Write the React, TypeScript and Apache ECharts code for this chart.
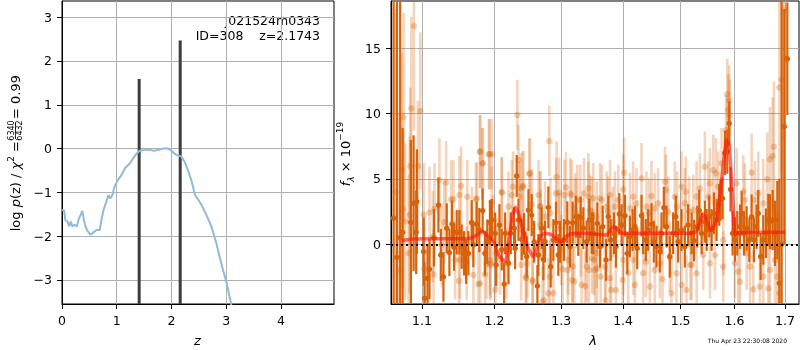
import React, { useEffect, useRef } from 'react';
import * as echarts from 'echarts';

// ---------- left panel: log p(z) ----------
const pzZ = [0, 0.04, 0.06, 0.10, 0.13, 0.16, 0.19, 0.23, 0.27, 0.31, 0.34, 0.37, 0.40, 0.43, 0.46, 0.52, 0.57, 0.63, 0.69, 0.72, 0.76, 0.81, 0.85, 0.88, 0.92, 0.96, 1.02, 1.09, 1.15, 1.24, 1.30, 1.36, 1.42, 1.51, 1.60, 1.68, 1.76, 1.85, 1.94, 2.00, 2.06, 2.12, 2.18, 2.24, 2.30, 2.37, 2.43, 2.49, 2.55, 2.64, 2.73, 2.82, 2.91, 3.01, 3.09, 3.15];
const pzLog = [-1.40, -1.42, -1.63, -1.67, -1.78, -1.67, -1.78, -1.74, -1.78, -1.59, -1.52, -1.42, -1.63, -1.78, -1.87, -1.97, -1.92, -1.86, -1.86, -1.63, -1.40, -1.21, -1.06, -1.14, -1.06, -0.87, -0.72, -0.60, -0.45, -0.34, -0.22, -0.12, -0.05, -0.03, -0.03, -0.05, -0.03, 0.00, 0.00, -0.05, -0.12, -0.16, -0.18, -0.30, -0.49, -0.75, -1.06, -1.17, -1.29, -1.52, -1.78, -2.16, -2.62, -3.08, -3.55, -3.95];
const peakZ = [1.41, 2.16];
const peakTop = [1.59, 2.47];
const zTicks = [0, 1, 2, 3, 4];
const pzTicks = [-3, -2, -1, 0, 1, 2, 3];

// ---------- right panel: spectrum ----------
const lamTicks = [1.1, 1.2, 1.3, 1.4, 1.5, 1.6, 1.7];
const fluxTicks = [0, 5, 10, 15];
const modelLam = [1.0739, 1.0847, 1.102, 1.1244, 1.147, 1.1655, 1.175, 1.1834, 1.189, 1.2, 1.2057, 1.2154, 1.2203, 1.225, 1.2301, 1.235, 1.2413, 1.2497, 1.2572, 1.2624, 1.2675, 1.2752, 1.2857, 1.3, 1.306, 1.3139, 1.335, 1.3727, 1.3837, 1.3893, 1.3977, 1.4691, 1.5254, 1.5346, 1.5408, 1.5471, 1.5553, 1.566, 1.5756, 1.5853, 1.590, 1.5965, 1.601, 1.6075, 1.7];
const modelFlux = [0.28, 0.38, 0.43, 0.43, 0.43, 0.46, 0.71, 0.97, 0.71, 0.08, -0.82, -1.33, 0.08, 1.86, 2.83, 2.37, 1.10, -0.31, -0.94, -0.31, 0.59, 0.84, 0.71, 0.2, 0.54, 0.79, 0.84, 0.71, 1.35, 1.22, 0.84, 0.84, 0.89, 1.61, 2.32, 1.86, 1.10, 1.86, 4.92, 7.98, 7.5, 3.4, 0.75, 0.89, 0.92];

// [lambda, flux, error]
const darkPts = [
  [1.0632, 2.0, 30], [1.0675, -1.0, 30], [1.0716, 0.5, 20], [1.0748, 0.92, 8], [1.0855, 1.68, 6.3],
  [1.089, 3.14, 5.2], [1.0933, 3.27, 4.0], [1.0924, 0.92, 3.2], [1.1035, -4.13, 2.8], [1.1022, -0.57, 2.6],
  [1.1074, -2.6, 2.5], [1.11, -1.91, 2.3], [1.116, 0.5, 2.2], [1.1219, 3.0, 2.1], [1.1251, -0.82, 2.0],
  [1.1287, -2.5, 1.9], [1.1332, 1.23, 1.9], [1.1368, -0.64, 1.8], [1.1404, 1.55, 1.8], [1.1432, -0.23, 1.8],
  [1.1468, 0.92, 1.7], [1.1505, 0.92, 1.7], [1.1537, -0.18, 1.7], [1.1569, -0.69, 1.7], [1.1597, -1.33, 1.7],
  [1.1629, -0.69, 1.7], [1.1676, 1.68, 1.7], [1.1699, -0.05, 1.7], [1.1746, 1.55, 1.7], [1.1783, 1.09, 1.7],
  [1.183, 2.57, 1.7], [1.1863, -0.69, 1.7], [1.1896, 0.2, 1.7], [1.1934, 1.68, 1.7], [1.1961, 1.86, 1.6],
  [1.2009, 0.84, 1.6], [1.2023, -1.58, 1.6], [1.2071, 1.47, 1.6], [1.2105, -0.4, 1.6], [1.2154, 0.84, 1.6],
  [1.2139, -3.04, 1.6], [1.2203, -1.45, 1.6], [1.2236, 0.84, 1.6], [1.2285, 1.23, 1.6], [1.23, -0.31, 1.6],
  [1.2324, 5.23, 1.6], [1.2349, 1.86, 1.6], [1.2398, 0.38, 1.6], [1.2433, 0.79, 1.6], [1.2473, -0.95, 1.6],
  [1.2498, 2.62, 1.6], [1.2547, 2.24, 1.6], [1.2583, 0.2, 1.6], [1.2633, -3.19, 1.6], [1.2648, -0.82, 1.6],
  [1.2698, 1.23, 1.6], [1.2724, -1.15, 1.6], [1.2749, 0.2, 1.6], [1.28, 2.83, 1.6], [1.2836, -1.71, 1.6],
  [1.2877, 0.33, 1.6], [1.2918, 1.66, 1.6], [1.2954, -0.82, 1.6], [1.298, 0.2, 1.6], [1.3042, 0.33, 1.6],
  [1.3094, 1.68, 1.6], [1.3137, -0.18, 1.6], [1.3179, 1.66, 1.6], [1.3231, 2.12, 1.6], [1.3268, 0.71, 1.6],
  [1.3306, 2.06, 1.6], [1.3348, 1.23, 1.6], [1.3402, 0.2, 1.6], [1.3445, 1.86, 1.6], [1.3483, 0.84, 1.6],
  [1.351, 0.84, 1.6], [1.3575, 1.6, 1.6], [1.3618, -0.18, 1.6], [1.3662, 1.35, 1.6], [1.3717, -1.2, 1.6],
  [1.3755, 2.12, 1.6], [1.3793, 0.33, 1.6], [1.3848, 0.84, 1.6], [1.3881, -0.18, 1.6], [1.3937, 2.32, 1.6],
  [1.3975, 1.47, 1.6], [1.4032, 2.19, 1.6], [1.407, -0.69, 1.6], [1.4115, 0.59, 1.6], [1.416, 1.09, 1.6],
  [1.42, 1.35, 1.6], [1.4239, -0.31, 1.6], [1.4313, 2.19, 1.6], [1.4341, 0.84, 1.6], [1.4387, 0.33, 1.6],
  [1.4428, 1.09, 1.6], [1.4485, 1.55, 1.6], [1.4526, 0.2, 1.6], [1.4572, -0.18, 1.6], [1.4631, -0.56, 1.6],
  [1.466, 0.84, 1.6], [1.4701, 2.8, 1.6], [1.4748, 1.35, 1.6], [1.4807, -0.95, 1.6], [1.4866, 0.84, 1.6],
  [1.4914, 2.12, 1.6], [1.4956, 0.2, 1.6], [1.5016, 1.09, 1.6], [1.5076, -0.18, 1.6], [1.5136, 1.47, 1.6],
  [1.5199, 0.84, 1.6], [1.5242, 0.28, 1.6], [1.5303, 1.35, 1.6], [1.5339, 2.58, 1.6], [1.5382, 0.84, 1.6],
  [1.5443, 1.73, 1.6], [1.5475, 1.1, 1.6], [1.5524, 2.12, 1.6], [1.5568, 1.1, 1.6], [1.5611, 2.37, 1.6],
  [1.5661, 1.86, 1.6], [1.5711, 3.01, 1.6], [1.5736, 3.39, 1.6], [1.5774, 3.52, 1.6], [1.5818, 7.0, 1.7],
  [1.5863, 7.1, 1.7], [1.5901, 9.25, 1.7], [1.5926, 4.2, 1.7], [1.5965, 0.84, 1.7], [1.601, 0.38, 1.7],
  [1.6055, 0.84, 1.7], [1.6107, 1.35, 1.7], [1.6139, 2.37, 1.7], [1.6184, 0.84, 1.7], [1.6236, 1.22, 1.7],
  [1.6288, 0.33, 1.7], [1.6333, 2.12, 1.7], [1.6379, 0.33, 1.7], [1.6431, 1.35, 1.7], [1.6464, 2.37, 1.8],
  [1.651, -0.94, 1.8], [1.6563, 0.33, 1.9], [1.6616, 0.84, 1.9], [1.6663, 1.86, 2.0], [1.6696, 1.73, 2.1],
  [1.675, 1.86, 2.3], [1.6797, 0.84, 2.5], [1.6844, 1.86, 3.0], [1.6885, -2.98, 8], [1.6932, 0, 25],
  [1.6986, 9.0, 9], [1.7048, 14.2, 4.3],
];

const lightPts = [
  [1.066, 4.0, 14], [1.070, -2.0, 12], [1.0738, 5.68, 9], [1.076, 9.72, 8], [1.0751, 2.69, 6],
  [1.0781, 1.74, 6], [1.0825, -0.69, 6], [1.0838, 2.25, 6], [1.0847, 5.99, 6], [1.086, 10.4, 7],
  [1.0894, 16.7, 8], [1.0947, 5.99, 5], [1.0978, 10.2, 6], [1.1022, 2.25, 4], [1.103, -1.9, 4],
  [1.11, 2.43, 3.5], [1.1145, 0.59, 3.5], [1.1154, -2.3, 3.5], [1.1167, 2.69, 3.5], [1.1233, 4.92, 3.2],
  [1.1264, -0.05, 3.2], [1.13, 1.68, 3.2], [1.1323, 4.71, 3.2], [1.1391, 3.44, 3], [1.1423, 3.44, 3],
  [1.1446, -1.2, 3], [1.15, -2.8, 3], [1.1505, 3.77, 3], [1.151, -1.2, 3], [1.1528, 4.46, 3],
  [1.1606, -1.45, 2.8], [1.1615, 3.64, 2.8], [1.1736, 3.44, 2.8], [1.1768, -3.04, 2.8], [1.1792, 7.09, 2.8],
  [1.1825, 6.2, 2.7], [1.1863, -2.3, 2.7], [1.1886, -1.5, 2.7], [1.192, 6.88, 2.7], [1.1934, -1.2, 2.7],
  [1.1958, 3.26, 2.7], [1.1961, 6.9, 2.7], [1.1937, -1.45, 2.7], [1.2009, -3.5, 2.7], [1.2081, -1.15, 2.7],
  [1.2105, 3.95, 2.7], [1.2203, 2.88, 2.7], [1.2251, 3.77, 2.7], [1.2334, 9.9, 2.7], [1.2349, 6.45, 2.7],
  [1.2384, 4.28, 2.7], [1.2423, 4.46, 2.7], [1.2463, -2.6, 2.7], [1.2482, -1.45, 2.7], [1.2522, 5.43, 2.7],
  [1.2547, 3.06, 2.7], [1.2562, -2.86, 2.7], [1.2673, 2.88, 2.7], [1.2683, 1.47, 2.7], [1.2734, -4.26, 2.7],
  [1.2749, 2.12, 2.7], [1.2815, 7.9, 2.7], [1.2877, -3.75, 2.7], [1.2928, 5.17, 2.7], [1.2969, 3.95, 2.7],
  [1.3021, -1.9, 2.7], [1.3073, 4.36, 2.7], [1.311, -1.2, 2.7], [1.3163, 3.77, 2.7], [1.3179, -1.7, 2.7],
  [1.3205, -2.86, 2.7], [1.3216, 2.75, 2.7], [1.3253, 3.39, 2.7], [1.3306, 0.2, 2.7], [1.336, 3.9, 2.7],
  [1.3376, -3.2, 2.7], [1.3402, -1.7, 2.7], [1.343, 4.28, 2.7], [1.3456, 2.62, 2.7], [1.3483, 2.5, 2.7],
  [1.351, 3.52, 2.7], [1.352, -1.2, 2.7], [1.3537, -1.96, 2.7], [1.3564, -0.69, 2.7], [1.3618, 3.52, 2.7],
  [1.3629, -2.47, 2.7], [1.3701, -1.71, 2.7], [1.371, -4.3, 2.7], [1.3782, 3.77, 2.7], [1.3864, 2.88, 2.7],
  [1.388, -3.5, 2.7], [1.3993, -2.73, 2.7], [1.4004, 4.2, 2.7], [1.4016, 5.48, 2.7], [1.4087, -2.2, 2.7],
  [1.4171, 3.64, 2.7], [1.4175, -1.2, 2.7], [1.42, -3.11, 2.7], [1.4313, 5.05, 2.7], [1.4387, -1.33, 2.7],
  [1.4445, 2.37, 2.7], [1.4485, 3.69, 2.7], [1.4543, -1.96, 2.7], [1.4601, 3.13, 2.7], [1.4678, -2.68, 2.7],
  [1.4721, 4.79, 2.7], [1.474, 4.15, 2.7], [1.4807, -0.95, 2.7], [1.4836, -3.75, 2.7], [1.4896, 3.64, 2.7],
  [1.5016, 4.41, 2.7], [1.502, -3.11, 2.7], [1.5094, 4.03, 2.7], [1.5106, -3.5, 2.7], [1.5154, 2.5, 2.7],
  [1.5178, -1.58, 2.7], [1.5199, -1.58, 2.7], [1.523, 2.62, 2.7], [1.529, -2.22, 2.7], [1.5352, 4.28, 2.7],
  [1.5413, -0.82, 2.7], [1.5443, 5.94, 2.7], [1.5537, 4.66, 2.7], [1.5599, 5.69, 2.7], [1.563, -0.82, 2.7],
  [1.5649, 5.43, 2.7], [1.5755, 6.2, 2.7], [1.5787, 0.33, 2.7], [1.5838, 8.75, 2.7], [1.5863, 11.5, 2.7],
  [1.5882, 10.3, 2.7], [1.5901, 11.0, 2.7], [1.5914, 9.9, 2.7], [1.601, -1.45, 2.7], [1.6042, 4.66, 2.7],
  [1.6075, -2.09, 2.7], [1.6107, -2.86, 2.7], [1.6171, 4.03, 2.8], [1.6236, -0.69, 2.8], [1.6333, 5.48, 3],
  [1.6366, -3.44, 3], [1.6464, 3.9, 3.2], [1.6497, -3.24, 3.2], [1.6563, -2.47, 3.4], [1.6643, 4.97, 3.6],
  [1.6663, -3.37, 3.6], [1.6696, 6.5, 4], [1.675, 6.76, 4.5], [1.6776, 7.47, 5], [1.6797, -1.2, 4.5],
  [1.6844, -2.47, 5], [1.6885, 12.0, 7], [1.6887, -3.75, 6], [1.6932, 12.6, 7], [1.6979, 17.9, 10],
  [1.1795, 7.09, 2.8], [1.1928, 6.9, 2.7], [1.1833, 6.2, 2.7], [1.2105, 4.0, 2.7], [1.175, 3.5, 2.8],
  [1.168, 1.6, 2.8], [1.198, 1.1, 2.7], [1.227, 4.4, 2.7], [1.241, 4.4, 2.7], [1.251, 5.4, 2.7],
  [1.268, 2.9, 2.7], [1.283, 2.4, 2.7], [1.292, 3.9, 2.7], [1.305, 3.77, 2.7], [1.314, 3.9, 2.7],
  [1.33, 3.4, 2.7], [1.343, 3.64, 2.7], [1.365, 3.39, 2.7], [1.375, 2.5, 2.7], [1.383, 1.7, 2.7],
  [1.323, 2.37, 2.7], [1.297, 1.22, 2.7], [1.349, -1.07, 2.7], [1.344, -1.97, 2.7], [1.357, -1.84, 2.7],
  [1.332, -3.1, 2.7], [1.317, -2.73, 2.7], [1.28, -3.75, 2.7], [1.2825, -2.47, 2.7], [1.256, -2.73, 2.7],
  [1.246, -2.47, 2.7], [1.239, -1.58, 2.7], [1.2175, -1.45, 2.7], [1.194, -1.58, 2.7], [1.1795, -3.0, 2.8],
  [1.17, -2.35, 2.8], [1.203, -0.69, 2.7], [1.2365, 3.64, 2.7], [1.265, 3.77, 2.7], [1.38, -3.5, 2.7],
  [1.31, -1.97, 2.7], [1.3, -0.43, 2.7], [1.271, -4.4, 2.7], [1.3564, 2.11, 2.7], [1.3728, 2.88, 2.7],
  [1.392, 3.39, 2.7], [1.4115, 2.75, 2.7], [1.4227, 3.13, 2.7], [1.4398, 2.88, 2.7], [1.4543, 2.75, 2.7],
  [1.4778, 2.5, 2.7], [1.4937, 2.88, 2.7], [1.5076, 3.13, 2.7], [1.4341, -2.22, 2.7], [1.3782, -2.6, 2.7],
  [1.4004, -1.2, 2.7], [1.4631, -1.45, 2.7], [1.4925, -2.22, 2.7], [1.4457, -3.24, 2.7], [1.529, 3.65, 2.7],
  [1.5506, 3.65, 2.7], [1.5693, 4.41, 2.7], [1.6202, 3.39, 2.8], [1.6398, 3.39, 3], [1.6563, 3.14, 3.4],
  [1.5537, -1.45, 2.7], [1.5787, -1.71, 2.7], [1.6301, -1.71, 3], [1.6696, -1.97, 4],
];

const DARK = '#d8620a';
const FONT = 'DejaVu Sans';
const LN = Math.log;
const minus = (v: number | string) => String(v).replace('-', '\u2212');

function errRender(color: string, width: number) {
  return (params: any, api: any) => {
    const x = api.value(0);
    const y = api.value(1);
    const e = api.value(2);
    const p1 = api.coord([x, y - e]);
    const p2 = api.coord([x, y + e]);
    return {
      type: 'line',
      shape: { x1: p1[0], y1: p1[1], x2: p2[0], y2: p2[1] },
      style: { stroke: color, lineWidth: width },
    };
  };
}

const axisCommon = {
  axisLine: { show: true, onZero: false, lineStyle: { color: '#000', width: 1 } },
  axisTick: { show: true, length: 5, lineStyle: { color: '#000', width: 1 } },
  splitLine: { show: true, lineStyle: { color: '#b0b0b0', width: 1 } },
};

const txt = (x: number, y: number, text: string, size: number, align: string, extra: any = {}) => ({
  type: 'text', x, y,
  style: { text, fill: '#000', fontSize: size, fontFamily: FONT, align, verticalAlign: 'middle', textAlign: align, textVerticalAlign: 'middle', ...extra },
});

export default function App() {
  const ref = useRef<HTMLDivElement>(null);
  useEffect(() => {
    if (!ref.current) return;
    const chart = echarts.init(ref.current, undefined, { renderer: 'svg' });
    const lamMin = LN(1.0599);
    const lamMax = LN(1.7288);
    const option: any = {
      animation: false,
      textStyle: { fontFamily: FONT },
      grid: [
        { left: 62, top: 1, width: 272, height: 303, show: true, borderColor: '#000', borderWidth: 1, backgroundColor: 'transparent' },
        { left: 391, top: 1, width: 408, height: 303, show: true, borderColor: '#000', borderWidth: 1, backgroundColor: 'transparent' },
      ],
      xAxis: [
        {
          gridIndex: 0, type: 'value', min: 0, max: 4.97,
          ...axisCommon,
          axisTick: { ...axisCommon.axisTick, customValues: zTicks },
          axisLabel: { customValues: zTicks, color: '#000', fontSize: 12.5, fontFamily: FONT, margin: 10, formatter: (v: number) => minus(v) },
        },
        {
          gridIndex: 1, type: 'value', min: lamMin, max: lamMax,
          ...axisCommon,
          axisTick: { ...axisCommon.axisTick, customValues: lamTicks.map(LN) },
          axisLabel: { customValues: lamTicks.map(LN), color: '#000', fontSize: 12.5, fontFamily: FONT, margin: 10, formatter: (v: number) => Math.exp(v).toFixed(1) },
        },
      ],
      yAxis: [
        {
          gridIndex: 0, type: 'value', min: -3.55, max: 3.37,
          ...axisCommon,
          axisTick: { ...axisCommon.axisTick, customValues: pzTicks },
          axisLabel: { customValues: pzTicks, color: '#000', fontSize: 12.5, fontFamily: FONT, margin: 10, formatter: (v: number) => minus(v) },
        },
        {
          gridIndex: 1, type: 'value', min: -4.57, max: 18.62,
          ...axisCommon,
          axisTick: { ...axisCommon.axisTick, customValues: fluxTicks },
          axisLabel: { customValues: fluxTicks, color: '#000', fontSize: 12.5, fontFamily: FONT, margin: 10, formatter: (v: number) => minus(v) },
        },
      ],
      series: [
        {
          type: 'line', xAxisIndex: 0, yAxisIndex: 0,
          data: pzZ.map((z, i) => [z, pzLog[i]]),
          showSymbol: false, symbol: 'none', clip: true,
          lineStyle: { color: '#8fbbd9', width: 2 },
        },
        {
          type: 'custom', xAxisIndex: 0, yAxisIndex: 0, clip: true,
          data: peakZ.map((z, i) => [z, peakTop[i]]),
          renderItem: (params: any, api: any) => {
            const p1 = api.coord([api.value(0), -10]);
            const p2 = api.coord([api.value(0), api.value(1)]);
            return { type: 'line', shape: { x1: p1[0], y1: p1[1], x2: p2[0], y2: p2[1] }, style: { stroke: '#3d3d3d', lineWidth: 3 } };
          },
        },
        {
          type: 'custom', xAxisIndex: 1, yAxisIndex: 1, clip: true,
          data: lightPts.map(([l, f, e]) => [LN(l), f, e]),
          encode: { x: 0, y: 1 },
          renderItem: errRender('rgba(216,101,15,0.28)', 2.6),
        },
        {
          type: 'scatter', xAxisIndex: 1, yAxisIndex: 1, clip: true,
          data: lightPts.map(([l, f]) => [LN(l), f]),
          symbolSize: 6.5,
          itemStyle: { color: DARK, opacity: 0.32 },
        },
        {
          type: 'custom', xAxisIndex: 1, yAxisIndex: 1, clip: true,
          data: darkPts.map(([l, f, e]) => [LN(l), f, e]),
          encode: { x: 0, y: 1 },
          renderItem: errRender(DARK, 2.2),
        },
        {
          type: 'scatter', xAxisIndex: 1, yAxisIndex: 1, clip: true,
          data: darkPts.map(([l, f]) => [LN(l), f]),
          symbolSize: 5.5,
          itemStyle: { color: DARK, opacity: 1 },
        },
        {
          type: 'line', xAxisIndex: 1, yAxisIndex: 1, clip: true,
          data: modelLam.map((l, i) => [LN(l), modelFlux[i]]),
          showSymbol: false, symbol: 'none', smooth: 0.2,
          lineStyle: { color: 'rgba(255,20,10,0.62)', width: 3.5 },
          markLine: {
            symbol: 'none', silent: true, label: { show: false },
            lineStyle: { color: '#000', type: [2, 3], width: 2 },
            data: [{ yAxis: 0 }],
          },
        },
      ],
      graphic: [
        txt(320, 20, 'j021524m0343', 12.5, 'right'),
        txt(320, 35, 'ID=308    z=2.1743', 12.5, 'right'),
        txt(197.5, 340, 'z', 13, 'center', { fontStyle: 'italic' }),
        txt(593, 340, 'λ', 13, 'center', { fontStyle: 'italic' }),
        txt(787, 340, 'Thu Apr 23 22:30:08 2020', 6, 'right'),
        {
          type: 'group', x: 15, y: 153, rotation: Math.PI / 2,
          children: [
            txt(12, 0, 'log {i|p}(z) / {i|χ}{s|2} =', 13, 'right', {
              rich: {
                i: { fontStyle: 'italic', fontSize: 13, fontFamily: FONT, lineHeight: 18, verticalAlign: 'middle' },
                s: { fontSize: 9, fontFamily: FONT, lineHeight: 18, verticalAlign: 'top' },
              },
            }),
            txt(22.5, -3.5, '6340', 8, 'center'),
            { type: 'line', shape: { x1: 15, y1: 0.5, x2: 30, y2: 0.5 }, style: { stroke: '#000', lineWidth: 0.8 } },
            txt(22.5, 4.5, '6432', 8, 'center'),
            txt(34, 0, '= 0.99', 13, 'left'),
          ],
        },
        {
          type: 'text', x: 345, y: 154, rotation: Math.PI / 2,
          style: {
            text: '{i|f}{b|λ}{n| × 10}{t|−19}', fill: '#000', fontFamily: FONT,
            align: 'center', verticalAlign: 'middle', textAlign: 'center', textVerticalAlign: 'middle',
            rich: {
              i: { fontStyle: 'italic', fontSize: 13, fontFamily: FONT, lineHeight: 20, verticalAlign: 'middle' },
              n: { fontSize: 13, fontFamily: FONT, lineHeight: 20, verticalAlign: 'middle' },
              b: { fontStyle: 'italic', fontSize: 9, fontFamily: FONT, lineHeight: 20, verticalAlign: 'bottom' },
              t: { fontSize: 9, fontFamily: FONT, lineHeight: 20, verticalAlign: 'top' },
            },
          },
        },
      ],
    };
    chart.setOption(option);
    return () => chart.dispose();
  }, []);
  return <div ref={ref} style={{ position: 'fixed', left: 0, top: 0, width: 800, height: 350 }} />;
}
